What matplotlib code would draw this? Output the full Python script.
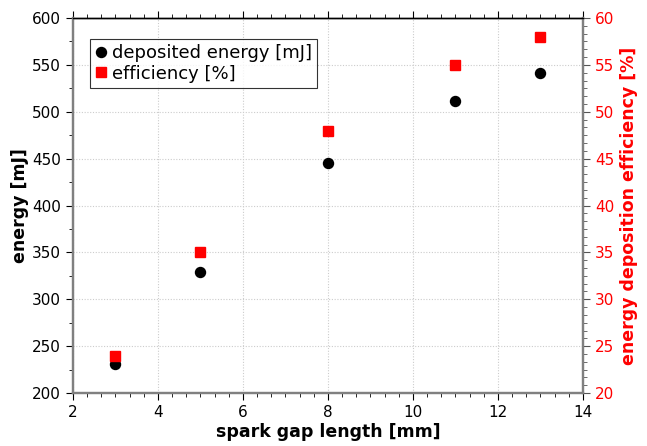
import matplotlib
matplotlib.use("Agg")
import matplotlib.pyplot as plt
from matplotlib.ticker import MultipleLocator, AutoMinorLocator

gap_mm = [3, 5, 8, 11, 13]
energy_mJ = [231, 329, 445, 511, 541]
efficiency_pct = [24, 35, 48, 55, 58]

plt.rcParams['font.family'] = ['DejaVu Sans']

fig = plt.figure(figsize=(6.47, 4.46), dpi=100)
ax = fig.add_axes([0.1128, 0.1188, 0.7882, 0.8408])
ax2 = ax.twinx()

h1, = ax.plot(gap_mm, energy_mJ, 'o', color='black', markersize=7.2, label='deposited energy [mJ]', zorder=3)
h2, = ax2.plot(gap_mm, efficiency_pct, 's', color='red', markersize=7.8, label='efficiency [%]', zorder=3)

ax.set_xlim(2, 14)
ax.set_ylim(200, 600)
ax2.set_ylim(20, 60)

ax.xaxis.set_major_locator(MultipleLocator(2))
ax.xaxis.set_minor_locator(AutoMinorLocator(6))
ax.yaxis.set_major_locator(MultipleLocator(50))
ax.yaxis.set_minor_locator(AutoMinorLocator(2))
ax2.yaxis.set_major_locator(MultipleLocator(5))
ax2.yaxis.set_minor_locator(AutoMinorLocator(6))

ax.grid(True, which='major', color='#cccccc', linestyle=(0, (1, 1.5)), linewidth=0.8)
ax.set_axisbelow(True)

ax.tick_params(axis='x', which='both', top=True, direction='out', labelsize=11, colors='black')
ax.tick_params(axis='x', which='major', length=5)
ax.tick_params(axis='x', which='minor', length=3)
ax.tick_params(axis='y', which='major', length=5, labelsize=11)
ax.tick_params(axis='y', which='minor', length=3)
ax2.tick_params(axis='y', which='major', length=5, labelsize=11, labelcolor='red', color='#555555')
ax2.tick_params(axis='y', which='minor', length=3, color='#555555')

for a in (ax, ax2):
    for s in ['left', 'right', 'bottom']:
        a.spines[s].set_color('#808080')
        a.spines[s].set_linewidth(1.6)
    a.spines['top'].set_color('black')
    a.spines['top'].set_linewidth(1.0)

ax.set_xlabel('spark gap length [mm]', fontsize=12.5, fontweight='bold', labelpad=2)
ax.set_ylabel('energy [mJ]', fontsize=12.5, fontweight='bold', labelpad=2)
ax2.set_ylabel('energy deposition efficiency [%]', fontsize=12.5, fontweight='bold', color='red', labelpad=4)

leg = ax2.legend(handles=[h1, h2], loc='upper left', bbox_to_anchor=(0.027, 0.955),
                 fontsize=13, frameon=True, fancybox=False, edgecolor='black',
                 handlelength=0.6, handletextpad=0.3, borderpad=0.3, labelspacing=0.15,
                 borderaxespad=0.2)
leg.get_frame().set_linewidth(0.8)

fig.savefig('out.png', dpi=100)
